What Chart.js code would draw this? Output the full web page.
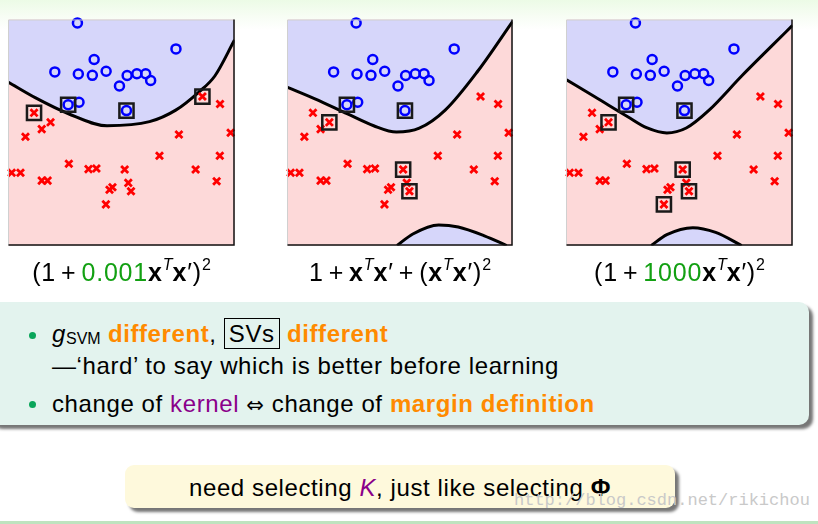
<!DOCTYPE html>
<html>
<head>
<meta charset="utf-8">
<script src="https://cdn.jsdelivr.net/npm/chart.js@4/dist/chart.umd.min.js"></script>
<style>
  html, body { margin: 0; padding: 0; }
  body {
    width: 818px; height: 524px; overflow: hidden; position: relative;
    font-family: "Liberation Sans", Arial, sans-serif;
    background: linear-gradient(#ecfbe6 0px, #f7fdf4 16px, #ffffff 30px);
  }
  canvas { position: absolute; }
  .formula { position: absolute; top: 258px; font-size: 25px; letter-spacing: 0.8px; text-align: center; color: #000; white-space: nowrap; }
  .formula sup { font-size: 16px; vertical-align: 11px; line-height: 0; letter-spacing: 0; }
  .formula .op { margin: 0 5px; }
  .green { color: #12a012; }
  .note {
    position: absolute; left: -12px; top: 302px; width: 821px; height: 123px;
    background: #e3f3ee; border-radius: 10px; box-shadow: 4px 4px 3px #767676;
  }
  .line { position: absolute; font-size: 24px; letter-spacing: 0.6px; white-space: nowrap; color: #000; }
  .dot { position: absolute; width: 7px; height: 7px; border-radius: 50%; background: #0aa55a; }
  .orange { color: #ff8a00; font-weight: bold; }
  .purple { color: #8a008a; }
  .boxed { border: 1px solid #000; padding: 1px 4px; }
  .sub { font-size: 16px; letter-spacing: 0; vertical-align: -2px; }
  .iff { font-family: "DejaVu Sans", sans-serif; font-size: 21px; }
  .yellow {
    position: absolute; left: 125px; top: 465px; width: 550px; height: 43px;
    background: #fef9dc; border-radius: 9px; box-shadow: 4px 4px 3px #767676;
    font-size: 24px; letter-spacing: 0.6px; text-align: center; line-height: 46px;
  }
  .mark { position: absolute; left: 514px; top: 491px; font-family: "Liberation Mono", monospace; font-size: 17px; color: #c9c9c9; }
  .foot { position: absolute; left: 0; top: 521px; width: 818px; height: 3px; background: #bfe3bf; }
</style>
</head>
<body>
<canvas id="c1" width="251" height="251" style="left:-4px;top:7px"></canvas>
<canvas id="c2" width="250" height="251" style="left:275px;top:7px"></canvas>
<canvas id="c3" width="251" height="251" style="left:554px;top:7px"></canvas>

<div class="formula" style="left:6px;width:231px">(1<span class="op">+</span><span class="green">0.001</span><b>x</b><sup><i>T</i></sup><b>x</b>′)<sup>2</sup></div>
<div class="formula" style="left:285px;width:230px">1<span class="op">+</span><b>x</b><sup><i>T</i></sup><b>x</b>′<span class="op">+</span>(<b>x</b><sup><i>T</i></sup><b>x</b>′)<sup>2</sup></div>
<div class="formula" style="left:564px;width:231px">(1<span class="op">+</span><span class="green">1000</span><b>x</b><sup><i>T</i></sup><b>x</b>′)<sup>2</sup></div>

<div class="note"></div>
<div class="dot" style="left:29px;top:332px"></div>
<div class="line" style="left:52px;top:320px"><i>g</i><span class="sub">SVM</span> <span class="orange">different</span>, <span class="boxed">SVs</span> <span class="orange">different</span></div>
<div class="line" style="left:52px;top:352px">—‘hard’ to say which is better before learning</div>
<div class="dot" style="left:29px;top:401px"></div>
<div class="line" style="left:52px;top:390px">change of <span class="purple">kernel</span> <span class="iff">⇔</span> change of <span class="orange">margin definition</span></div>

<div class="yellow">need selecting <i class="purple">K</i>, just like selecting <b>Φ</b></div>
<div class="mark">http://blog.csdn.net/rikichou</div>
<div class="foot"></div>

<script>
// training points, plot units 0..100
const circleX = [30.5, 74.1, 37.9, 20.5, 30.9, 37.1, 43.2, 52.5, 56.8, 60.7, 62.9, 49.1, 31.2, 26.4, 52.2];
const circleY = [98.5, 87.0, 82.3, 76.8, 75.9, 75.3, 77.1, 75.2, 76.0, 76.0, 73.0, 70.6, 63.4, 62.3, 59.7];
const crossX = [85.8, 11.3, 18.6, 14.7, 7.5, 93.6, 75.4, 98.3, 66.8, 93.5, 26.7, 1.4, 5.3, 35.4, 38.9, 51.4, 82.8, 14.7, 17.3, 92.1, 53.0, 46.0, 44.7, 54.2, 43.1];
const crossY = [65.9, 58.7, 54.5, 51.5, 48.1, 62.6, 49.1, 49.9, 39.7, 39.7, 36.2, 32.2, 32.2, 33.8, 34.1, 33.6, 33.6, 28.7, 28.7, 28.4, 27.7, 25.8, 24.7, 24.0, 18.2];

// support vectors (indices) for each kernel
const svCircles1 = [13, 14];
const svCrosses1 = [0, 1];
const svCircles2 = [13, 14];
const svCrosses2 = [2, 15, 23];
const svCircles3 = [13, 14];
const svCrosses3 = [2, 15, 23, 24];

// decision boundaries
const upper1X = [0, 11.8, 26.3, 43.6, 62.4, 74.0, 84.1, 91.3, 100];
const upper1Y = [72.2, 65.4, 58.4, 53.0, 54.8, 59.9, 67.8, 75.0, 90.9];
const upper2X = [0, 12.2, 26.7, 38.3, 48.4, 58.6, 70.1, 84.6, 100];
const upper2Y = [70.0, 64.9, 58.2, 53.0, 50.2, 51.9, 59.9, 77.2, 99.1];
const lower2X = [48.7, 55.7, 67.2, 75.9, 87.5, 97.4];
const lower2Y = [0, 5.1, 9.1, 8.2, 4.3, 0];
const upper3X = [0, 12.7, 27.1, 35.7, 44.4, 53.0, 63.1, 77.5, 90.5, 100];
const upper3Y = [73.3, 65.7, 57.0, 52.0, 49.8, 52.0, 59.9, 75.0, 88.0, 97.4];
const lower3X = [37.5, 44.4, 55.9, 66.0, 77.5];
const lower3Y = [0, 4.8, 7.9, 5.8, 0];

const BLUE_AREA = "#d6d6fa";
const PINK_AREA = "#fdd9d9";

const pts = (xs, ys) => xs.map((x, i) => ({ x, y: ys[i] }));
const pick = (xs, ys, idx) => idx.map((i) => ({ x: xs[i], y: ys[i] }));

const areaPlugin = {
  id: "area",
  beforeDatasetsDraw(chart) {
    const a = chart.chartArea;
    const c = chart.ctx;
    c.save();
    c.fillStyle = PINK_AREA;
    c.fillRect(a.left, a.top, a.right - a.left, a.bottom - a.top);
    c.restore();
  },
  afterDatasetsDraw(chart) {
    const a = chart.chartArea;
    const c = chart.ctx;
    c.save();
    c.lineWidth = 1;
    c.strokeStyle = "#d0d0d0";
    c.beginPath();
    c.moveTo(a.left, a.bottom);
    c.lineTo(a.left, a.top + 0.5);
    c.lineTo(a.right, a.top + 0.5);
    c.stroke();
    c.strokeStyle = "#111";
    c.lineWidth = 1.5;
    c.beginPath();
    c.moveTo(a.left, a.bottom - 0.5);
    c.lineTo(a.right - 0.5, a.bottom - 0.5);
    c.lineTo(a.right - 0.5, a.top);
    c.stroke();
    c.restore();
  },
};

function boundary(data, fill) {
  return {
    data,
    showLine: true,
    fill,
    backgroundColor: BLUE_AREA,
    borderColor: "#000",
    borderWidth: 3,
    pointRadius: 0,
    cubicInterpolationMode: "monotone",
    order: 10,
  };
}

function makeChart(id, curves, svC, svX) {
  const datasets = curves.map(([xs, ys, fill]) => boundary(pts(xs, ys), fill));
  datasets.push({
    data: pts(circleX, circleY),
    pointStyle: "circle",
    pointRadius: 4.5,
    borderWidth: 2.5,
    borderColor: "#0000ff",
    backgroundColor: "rgba(0,0,0,0)",
    clip: false,
    order: 2,
  });
  datasets.push({
    data: pts(crossX, crossY),
    pointStyle: "crossRot",
    pointRadius: 5,
    borderWidth: 2.8,
    borderColor: "#ff0000",
    clip: false,
    order: 2,
  });
  datasets.push({
    data: pick(circleX, circleY, svC).concat(pick(crossX, crossY, svX)),
    pointStyle: "rect",
    pointRadius: 10,
    borderWidth: 2.5,
    borderColor: "#1a1a1a",
    backgroundColor: "rgba(0,0,0,0)",
    clip: false,
    order: 1,
  });

  return new Chart(document.getElementById(id), {
    type: "scatter",
    data: { datasets },
    options: {
      responsive: false,
      animation: false,
      layout: { padding: 10 },
      scales: {
        x: { type: "linear", min: 0, max: 100, display: false },
        y: { type: "linear", min: 0, max: 100, display: false },
      },
      plugins: { legend: { display: false }, tooltip: { enabled: false } },
      elements: { point: { hoverRadius: 0 } },
    },
    plugins: [areaPlugin],
  });
}

makeChart("c1", [[upper1X, upper1Y, "end"]], svCircles1, svCrosses1);
makeChart("c2", [[upper2X, upper2Y, "end"], [lower2X, lower2Y, "start"]], svCircles2, svCrosses2);
makeChart("c3", [[upper3X, upper3Y, "end"], [lower3X, lower3Y, "start"]], svCircles3, svCrosses3);
</script>
</body>
</html>
